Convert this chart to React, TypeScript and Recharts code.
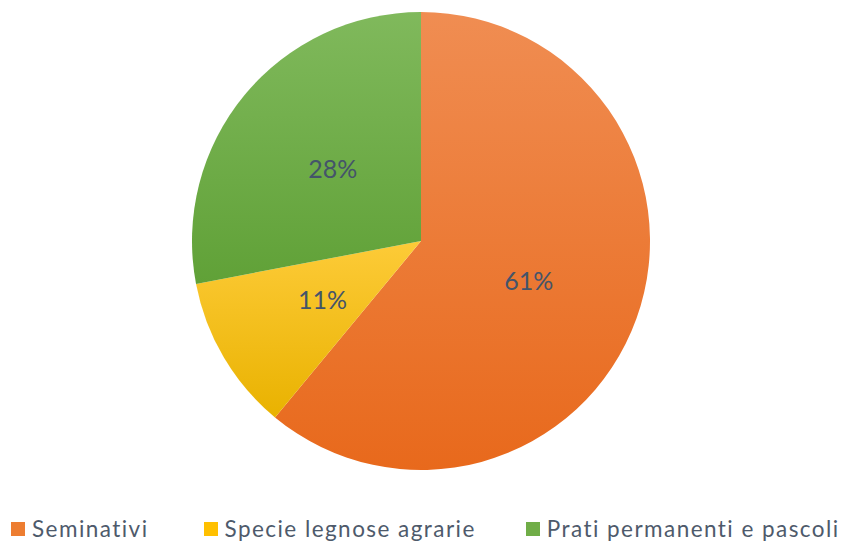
import React from "react";
import { PieChart, Pie, Cell, Legend } from "recharts";

const categories = ["Seminativi", "Specie legnose agrarie", "Prati permanenti e pascoli"];
const values = [61, 11, 28];
const labels = ["61%", "11%", "28%"];
const colors = ["#ED7D31", "#FFC000", "#70AD47"];
const gradTop = ["#F08D52", "#FDCB38", "#80B95C"];
const gradBottom = ["#E8691C", "#E9B200", "#60A137"];

const data = categories.map((name, i) => ({ name, value: values[i], label: labels[i] }));

const RADIAN = Math.PI / 180;

const renderLabel = (props: any) => {
  const { cx, cy, midAngle, outerRadius, index } = props;
  const r = outerRadius * 0.5;
  const x = cx + r * Math.cos(-midAngle * RADIAN);
  const y = cy + r * Math.sin(-midAngle * RADIAN);
  return (
    <text
      x={x}
      y={y}
      fill="#44546A"
      textAnchor="middle"
      dominantBaseline="central"
      fontFamily="Lato, 'Open Sans', sans-serif"
      fontSize={25}
    >
      {labels[index]}
    </text>
  );
};

const renderLegend = () => (
  <div
    style={{
      display: "flex",
      alignItems: "center",
      fontFamily: "Lato, 'Open Sans', sans-serif",
      fontSize: 22.5,
      letterSpacing: 1.45,
      color: "#4E5A6B",
      paddingLeft: 11,
      whiteSpace: "nowrap",
    }}
  >
    {categories.map((c, i) => (
      <div key={c} style={{ display: "flex", alignItems: "center", marginRight: i === 0 ? 55 : 50 }}>
        <span
          style={{
            display: "inline-block",
            width: 14,
            height: 14,
            background: colors[i],
            marginRight: 7,
          }}
        />
        <span>{c}</span>
      </div>
    ))}
  </div>
);

export default function App() {
  return (
    <div style={{ position: "absolute", left: 0, top: 0, width: 843, height: 545, background: "#fff" }}>
      <PieChart width={843} height={545} margin={{ top: 0, right: 0, bottom: 0, left: 0 }}>
        <defs>
          {colors.map((c, i) => (
            <linearGradient key={c} id={`g${i}`} x1="0" y1="0" x2="0" y2="1">
              <stop offset="0%" stopColor={gradTop[i]} />
              <stop offset="100%" stopColor={gradBottom[i]} />
            </linearGradient>
          ))}
        </defs>
        <Pie
          data={data}
          dataKey="value"
          nameKey="name"
          cx={421}
          cy={241}
          outerRadius={229}
          startAngle={90}
          endAngle={-270}
          stroke="none"
          label={renderLabel}
          labelLine={false}
          isAnimationActive={false}
        >
          {data.map((d, i) => (
            <Cell key={d.name} fill={`url(#g${i})`} />
          ))}
        </Pie>
        <Legend
          content={renderLegend}
          wrapperStyle={{ position: "absolute", left: 0, top: 515, width: 843 }}
        />
      </PieChart>
    </div>
  );
}
